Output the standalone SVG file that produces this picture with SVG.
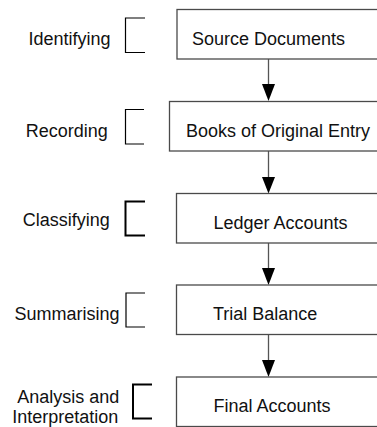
<svg xmlns="http://www.w3.org/2000/svg" width="377" height="427" viewBox="0 0 377 427">
<style>
  .box { fill: #ffffff; stroke: #4a4a4a; stroke-width: 1.3; }
  .txt { font-family: "Liberation Sans", Arial, sans-serif; font-size: 18px; fill: #111111; }
  .lbl { font-family: "Liberation Sans", Arial, sans-serif; font-size: 18px; fill: #111111; text-anchor: middle; }
  .br { fill: none; stroke: #000000; stroke-width: 1.2; }
  .brk { fill: none; stroke: #000000; stroke-width: 2; }
  .conn { stroke: #555555; stroke-width: 1.3; fill: none; }
  .head { fill: #000000; }
</style>
<rect width="377" height="427" fill="#ffffff"/>

<g id="connectors">
  <line class="conn" x1="268.5" y1="59" x2="268.5" y2="88"/>
  <polygon class="head" points="262,84 275,84 268.5,101"/>
  <line class="conn" x1="268.5" y1="151" x2="268.5" y2="180"/>
  <polygon class="head" points="262,177 275,177 268.5,193.5"/>
  <line class="conn" x1="268.5" y1="243" x2="268.5" y2="272"/>
  <polygon class="head" points="262,268 275,268 268.5,285"/>
  <line class="conn" x1="268.5" y1="335" x2="268.5" y2="364"/>
  <polygon class="head" points="262,360 275,360 268.5,377"/>
</g>

<g id="identifying">
  <text class="lbl" x="69.5" y="44.5">Identifying</text>
  <polyline class="br" points="145,18 125.5,18 125.5,52.5 145,52.5"/>
</g>
<g id="recording">
  <text class="lbl" x="66.7" y="136.5">Recording</text>
  <polyline class="br" points="144,109.5 125.5,109.5 125.5,144 144,144"/>
</g>
<g id="classifying">
  <text class="lbl" x="66.3" y="226">Classifying</text>
  <polyline class="brk" points="145,201.5 125.5,201.5 125.5,235.5 145,235.5"/>
</g>
<g id="summarising">
  <text class="lbl" x="67" y="320">Summarising</text>
  <polyline class="br" points="145,293 126,293 126,327 145,327"/>
</g>
<g id="analysis">
  <text class="lbl" x="68.3" y="403">Analysis and</text>
  <text class="lbl" x="65.3" y="423">Interpretation</text>
  <polyline class="brk" points="152,384.5 133,384.5 133,418.5 152,418.5"/>
</g>

<g id="source-documents">
  <rect class="box" x="177" y="9.5" width="230" height="49.5"/>
  <text class="txt" x="192" y="45">Source Documents</text>
</g>
<g id="books-of-original-entry">
  <rect class="box" x="169.5" y="101.5" width="230" height="49.5"/>
  <text class="txt" x="186" y="136.5">Books of Original Entry</text>
</g>
<g id="ledger-accounts">
  <rect class="box" x="176.5" y="193.5" width="230" height="49.5"/>
  <text class="txt" x="213.5" y="229">Ledger Accounts</text>
</g>
<g id="trial-balance">
  <rect class="box" x="176.5" y="285" width="230" height="49.5"/>
  <text class="txt" x="213" y="320">Trial Balance</text>
</g>
<g id="final-accounts">
  <rect class="box" x="176.5" y="377" width="230" height="49.5"/>
  <text class="txt" x="213.5" y="411.5">Final Accounts</text>
</g>
</svg>
